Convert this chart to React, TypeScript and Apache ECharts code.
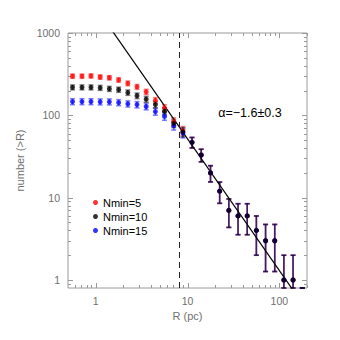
import { useEffect, useRef } from 'react';
import * as echarts from 'echarts';

// bin radii (pc)
const rBins = [0.56, 0.71, 0.89, 1.12, 1.41, 1.78, 2.24, 2.82, 3.55, 4.47, 5.62, 7.08, 8.91, 11.2, 14.1, 17.8, 22.4, 28.2, 35.5, 44.7, 56.2, 70.8, 89.1, 112, 141, 178];
// cumulative counts number(>R)
const countsN5 = [299, 299, 301, 292, 286, 269, 245, 222, 193, 152, 123, 84, 65, 47, 33, 20, 12, 7, 6, 6, 4, 3, 3, 1, 1, 0];
const countsN10 = [219, 219, 219, 216, 210, 205, 189, 173, 157, 135, 112, 80, 63, 47, 33, 20, 12, 7, 6, 6, 4, 3, 3, 1, 1, 0];
const countsN15 = [147, 147, 147, 146, 146, 143, 138, 135, 128, 111, 97, 75, 61, 47, 33, 20, 12, 7, 6, 6, 4, 3, 3, 1, 1, 0];

const seriesNames = ['Nmin=5', 'Nmin=10', 'Nmin=15'];
const seriesColors = ['#ff0000', '#000000', '#0000ff'];

// power-law fit endpoints
const fitR = [1.5, 200];
const fitN = [1080, 0.43];
const cutR = 8.1;
const fitLabel = 'α=−1.6±0.3';

const xMajorTicks = [1, 10, 100];
const xMinorTicks = [0.6, 0.7, 0.8, 0.9, 2, 3, 4, 5, 6, 7, 8, 9, 20, 30, 40, 50, 60, 70, 80, 90, 200];
const yMajorTicks = [1, 10, 100, 1000];
const yMinorTicks = [0.9, 2, 3, 4, 5, 6, 7, 8, 9, 20, 30, 40, 50, 60, 70, 80, 90, 200, 300, 400, 500, 600, 700, 800, 900];

const AX = '#9a9a9a';
const TXT = '#707070';
const FONT = '"Liberation Sans", Arial, sans-serif';

export default function App() {
  const ref = useRef<HTMLDivElement>(null);
  useEffect(() => {
    if (!ref.current) return;
    const chart = echarts.init(ref.current, null, { renderer: 'svg' });

    const isDecade = (v: number) => {
      const l = Math.log10(v);
      return Math.abs(l - Math.round(l)) < 1e-6;
    };

    const errSeries = (counts: number[], color: string) => ({
      type: 'custom',
      silent: true,
      z: 2,
      data: counts.map((n, i) => [rBins[i], n - Math.sqrt(n), n + Math.sqrt(n)]),
      encode: { x: 0, y: 2 },
      renderItem: (params: any, api: any) => {
        const cs = params.coordSys;
        const r = api.value(0);
        const lo = Math.max(api.value(1), 1e-3);
        const hi = Math.max(api.value(2), 1e-3);
        const pLo = api.coord([r, lo]);
        const pHi = api.coord([r, hi]);
        const top = cs.y, bot = cs.y + cs.height;
        const cl = (y: number) => Math.min(bot, Math.max(top, y));
        const x = pLo[0];
        const y1 = cl(pLo[1]);
        const y2 = cl(pHi[1]);
        const st = { stroke: color, lineWidth: 1.6, opacity: 0.5 };
        return {
          type: 'group',
          children: [
            { type: 'line', shape: { x1: x, y1, x2: x, y2 }, style: st },
            { type: 'line', shape: { x1: x - 2.5, y1, x2: x + 2.5, y2: y1 }, style: st },
            { type: 'line', shape: { x1: x - 2.5, y1: y2, x2: x + 2.5, y2 }, style: st },
          ],
        };
      },
    });

    const pointSeries = (name: string, counts: number[], color: string, z: number) => ({
      name,
      type: 'scatter',
      symbol: 'circle',
      symbolSize: 5,
      z,
      itemStyle: { color },
      data: counts.map((n, i) => (n > 0 ? [rBins[i], n] : [rBins[i], '-'])),
    });

    const xTickSeries = {
      type: 'custom',
      silent: true,
      z: 1,
      data: xMajorTicks.map((v) => [v, 1, 1]).concat(xMinorTicks.map((v) => [v, 0, 1])),
      encode: { x: 0, y: 2 },
      renderItem: (params: any, api: any) => {
        const cs = params.coordSys;
        const px = Math.round(api.coord([api.value(0), 1])[0]) + 0.5;
        const len = api.value(1) ? 5 : 3;
        const bot = cs.y + cs.height;
        const st = { stroke: AX, lineWidth: 1 };
        return {
          type: 'group',
          children: [
            { type: 'line', shape: { x1: px, y1: bot, x2: px, y2: bot - len }, style: st },
            { type: 'line', shape: { x1: px, y1: cs.y, x2: px, y2: cs.y + len }, style: st },
          ],
        };
      },
    };

    const yTickSeries = {
      type: 'custom',
      silent: true,
      z: 1,
      data: yMajorTicks.map((v) => [1, v, 1]).concat(yMinorTicks.map((v) => [1, v, 0])),
      encode: { x: 0, y: 1 },
      renderItem: (params: any, api: any) => {
        const cs = params.coordSys;
        const py = Math.round(api.coord([1, api.value(1)])[1]) + 0.5;
        const len = api.value(2) ? 5 : 3;
        const right = cs.x + cs.width;
        const st = { stroke: AX, lineWidth: 1 };
        return {
          type: 'group',
          children: [
            { type: 'line', shape: { x1: cs.x, y1: py, x2: cs.x + len, y2: py }, style: st },
            { type: 'line', shape: { x1: right, y1: py, x2: right - len, y2: py }, style: st },
          ],
        };
      },
    };

    chart.setOption({
      animation: false,
      backgroundColor: '#ffffff',
      textStyle: { fontFamily: FONT },
      grid: {
        left: 68,
        right: 33,
        top: 33,
        bottom: 52,
        show: true,
        borderColor: AX,
        borderWidth: 1,
        backgroundColor: 'transparent',
      },
      legend: {
        orient: 'vertical',
        left: 93,
        top: 197,
        padding: 0,
        icon: 'circle',
        itemWidth: 5,
        itemHeight: 5,
        itemGap: 3,
        selectedMode: false,
        data: seriesNames,
        textStyle: { fontSize: 11, color: '#000', fontFamily: FONT, lineHeight: 11 },
      },
      xAxis: {
        type: 'log',
        logBase: 10,
        min: 0.5,
        max: 200,
        name: 'R (pc)',
        nameLocation: 'middle',
        nameGap: 21,
        nameTextStyle: { fontSize: 11, color: TXT, fontFamily: FONT },
        axisLine: { show: false },
        axisTick: { show: false },
        splitLine: { show: false },
        axisLabel: {
          margin: 7,
          fontSize: 10.5,
          color: TXT,
          fontFamily: FONT,
          formatter: (v: number) => (isDecade(v) ? String(Math.round(v)) : ''),
        },
      },
      yAxis: {
        type: 'log',
        logBase: 10,
        min: 0.8,
        max: 1000,
        name: 'number (>R)',
        nameLocation: 'middle',
        nameGap: 33,
        nameTextStyle: { fontSize: 11, color: TXT, fontFamily: FONT },
        axisLine: { show: false },
        axisTick: { show: false },
        splitLine: { show: false },
        axisLabel: {
          margin: 8,
          fontSize: 10.5,
          color: TXT,
          fontFamily: FONT,
          formatter: (v: number) => (isDecade(v) ? String(Math.round(v)) : ''),
        },
      },
      graphic: [
        {
          type: 'text',
          x: 250,
          y: 113,
          style: {
            text: fitLabel,
            fill: '#000',
            fontSize: 12.5,
            fontFamily: FONT,
            align: 'center',
            verticalAlign: 'middle',
          },
        },
      ],
      series: [
        xTickSeries,
        yTickSeries,
        {
          type: 'line',
          silent: true,
          symbol: 'none',
          z: 3,
          clip: true,
          lineStyle: { color: '#000', width: 1.2 },
          data: fitR.map((r, i) => [r, fitN[i]]),
          markLine: {
            silent: true,
            symbol: 'none',
            label: { show: false },
            lineStyle: { color: '#222', width: 1, type: [6, 4] },
            data: [{ xAxis: cutR }],
          },
        },
        errSeries(countsN5, seriesColors[0]),
        errSeries(countsN15, seriesColors[2]),
        errSeries(countsN10, seriesColors[1]),
        pointSeries(seriesNames[0], countsN5, seriesColors[0], 4),
        pointSeries(seriesNames[2], countsN15, seriesColors[2], 5),
        pointSeries(seriesNames[1], countsN10, seriesColors[1], 6),
      ],
    });
    return () => chart.dispose();
  }, []);
  return (
    <div
      ref={ref}
      style={{ position: 'absolute', left: 0, top: 0, width: 340, height: 340 }}
    />
  );
}
